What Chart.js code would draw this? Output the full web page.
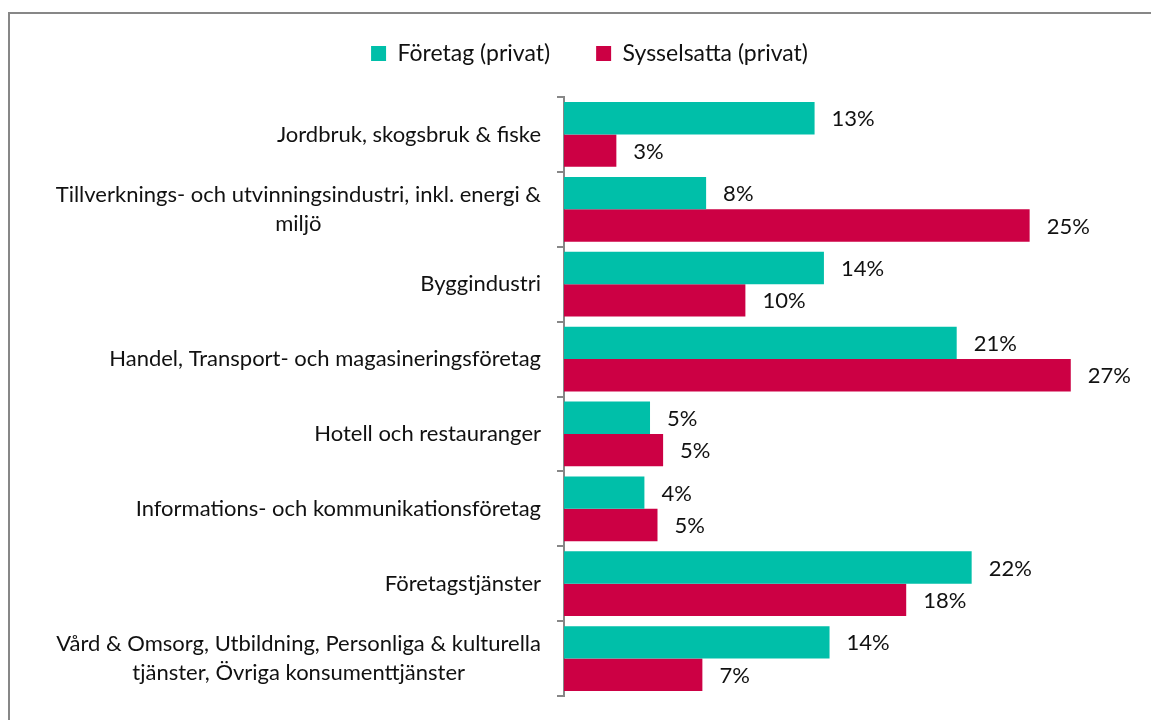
<!DOCTYPE html>
<html>
<head>
<meta charset="utf-8">
<script src="https://cdn.jsdelivr.net/npm/chart.js@4.4.0/dist/chart.umd.min.js"></script>
<style>
  html, body { margin: 0; padding: 0; background: #fff; overflow: hidden; }
  #frame { position: absolute; left: 8px; top: 12px; width: 1160px; height: 720px;
           border-top: 2px solid #878787; border-left: 2px solid #878787; }
  #wrap { position: absolute; left: 0; top: 0; width: 1141px; height: 706px; }
</style>
</head>
<body>
<div id="frame"><div id="wrap"><canvas id="chart"></canvas></div></div>
<script>
// Branscher (multi-line labels as arrays)
const categories = [
    ['Jordbruk, skogsbruk & fiske'],
    ['Tillverknings- och utvinningsindustri, inkl. energi &', 'miljö'],
    ['Byggindustri'],
    ['Handel, Transport- och magasineringsföretag'],
    ['Hotell och restauranger'],
    ['Informations- och kommunikationsföretag'],
    ['Företagstjänster'],
    ['Vård & Omsorg, Utbildning, Personliga & kulturella', 'tjänster, Övriga konsumenttjänster']
];

// share in percent
const foretag = [13.4, 7.6, 13.9, 21.0, 4.6, 4.3, 21.8, 14.2];
const sysselsatta = [2.8, 24.9, 9.7, 27.1, 5.3, 5.0, 18.3, 7.4];

const seriesNames = ['Företag (privat)', 'Sysselsatta (privat)'];
const xMax = 30;

const FONT = 'Lato, "Open Sans", sans-serif';
const TEXT = '#111111';

// value labels at the end of each bar
const barLabels = {
    id: 'barLabels',
    afterDatasetsDraw(chart) {
        const ctx = chart.ctx;
        ctx.save();
        ctx.font = '22px ' + FONT;
        ctx.fillStyle = TEXT;
        ctx.textAlign = 'left';
        ctx.textBaseline = 'middle';
        chart.data.datasets.forEach((ds, i) => {
            chart.getDatasetMeta(i).data.forEach((bar, j) => {
                ctx.fillText(Math.round(ds.data[j]) + '%', bar.x + 17, bar.y + 1);
            });
        });
        ctx.restore();
    }
};

// category labels: block right-aligned, lines centered within the block
const catLabels = {
    id: 'catLabels',
    afterDraw(chart) {
        const ctx = chart.ctx;
        const y = chart.scales.y;
        const lineH = 29;
        ctx.save();
        ctx.font = '22px ' + FONT;
        ctx.fillStyle = TEXT;
        ctx.textAlign = 'center';
        ctx.textBaseline = 'middle';
        const right = y.right - 23;
        chart.data.labels.forEach((lines, i) => {
            const w = Math.max(...lines.map(l => ctx.measureText(l).width));
            const cx = right - w / 2;
            const cy = y.getPixelForTick(i);
            const top = cy - (lines.length - 1) * lineH / 2;
            lines.forEach((l, k) => ctx.fillText(l, cx, top + k * lineH));
        });
        ctx.restore();
    }
};

new Chart(document.getElementById('chart'), {
    type: 'bar',
    data: {
        labels: categories,
        datasets: [
            { label: seriesNames[0], data: foretag, backgroundColor: '#00BFA9' },
            { label: seriesNames[1], data: sysselsatta, backgroundColor: '#CC0044' }
        ]
    },
    plugins: [barLabels, catLabels],
    options: {
        indexAxis: 'y',
        responsive: true,
        maintainAspectRatio: false,
        animation: false,
        layout: { padding: { top: -18, right: 26, bottom: 24, left: 44 } },
        datasets: {
            bar: { categoryPercentage: 0.865, barPercentage: 1.0 }
        },
        plugins: {
            legend: {
                position: 'top',
                labels: {
                    font: { family: FONT, size: 23 },
                    color: TEXT,
                    boxWidth: 15,
                    boxHeight: 15,
                    padding: 46
                }
            },
            tooltip: { enabled: false }
        },
        scales: {
            // hidden value axis, used only as a gap under the legend
            x: {
                position: 'top',
                min: 0,
                max: xMax,
                afterFit(scale) { scale.height = 22; },
                ticks: { display: false },
                grid: { display: false },
                border: { display: false }
            },
            y: {
                afterFit(scale) { scale.width = 510; },
                ticks: { color: 'rgba(0,0,0,0)', font: { family: FONT, size: 20 } },
                grid: {
                    offset: true,
                    drawOnChartArea: false,
                    drawTicks: true,
                    tickLength: 7,
                    color: '#878787',
                    lineWidth: 2
                },
                border: { color: '#878787', width: 2 }
            }
        }
    }
});
</script>
</body>
</html>
